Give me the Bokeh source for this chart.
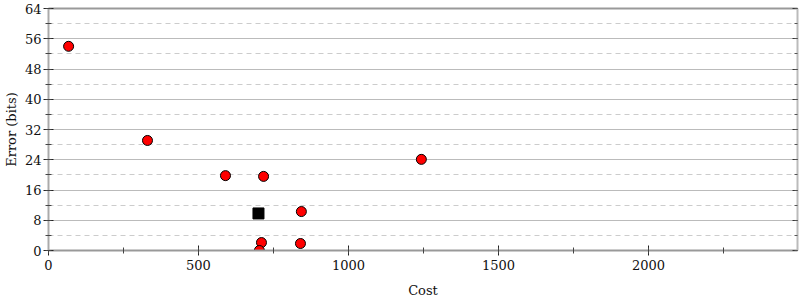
from bokeh.plotting import figure
from bokeh.models import LinearAxis, FixedTicker, Range1d
from bokeh.embed import file_html
from bokeh.resources import INLINE

cost = [67, 330, 590, 717, 1243, 843, 710, 840, 703]
error = [54.0, 29.1, 19.8, 19.6, 24.1, 10.3, 2.1, 1.85, 0.0]
init_cost = [700]
init_error = [9.8]
x_ticks = [0, 500, 1000, 1500, 2000]
y_ticks = [0, 8, 16, 24, 32, 40, 48, 56, 64]

FONT = "DejaVu Serif"

p = figure(width=800, height=300, output_backend="svg", toolbar_location=None,
           x_range=Range1d(0, 2497), y_range=Range1d(0, 64),
           min_border_left=48, min_border_right=3, min_border_top=8, min_border_bottom=50)
p.outline_line_color = None
p.background_fill_color = "white"

# axes
xa = p.xaxis[0]
xa.ticker = FixedTicker(ticks=x_ticks, minor_ticks=list(range(0, 2500, 250)))
xa.axis_label = "Cost"
ya = p.yaxis[0]
ya.ticker = FixedTicker(ticks=y_ticks, minor_ticks=list(range(0, 65, 4)))
ya.axis_label = "Error (bits)"
for ax in (xa, ya):
    ax.axis_label_text_font = FONT
    ax.axis_label_text_font_style = "normal"
    ax.axis_label_text_font_size = "13px"
    ax.axis_label_text_color = "#111111"
    ax.major_label_text_font = FONT
    ax.major_label_text_font_size = "13px"
    ax.major_label_text_color = "#111111"
    ax.axis_line_color = "#aaaaaa"
    ax.axis_line_width = 2
    ax.major_tick_line_color = "#222222"
    ax.minor_tick_line_color = "#444444"
    ax.major_tick_in = 5
    ax.major_tick_out = 5
    ax.minor_tick_in = 3
    ax.minor_tick_out = 3
xa.axis_line_color = "#999999"
xa.axis_label_standoff = 10
ya.axis_label_standoff = 3
xa.major_label_standoff = 4
ya.major_label_standoff = 2

ra = LinearAxis(ticker=FixedTicker(ticks=y_ticks, minor_ticks=list(range(0, 65, 4))),
                major_label_overrides={t: "" for t in y_ticks},
                axis_line_color="#bbbbbb", axis_line_width=2,
                major_tick_line_color="#333333", minor_tick_line_color="#555555",
                major_tick_in=5, major_tick_out=0, minor_tick_in=3, minor_tick_out=0)
ra.major_label_standoff = 0
p.add_layout(ra, "right")

ta = LinearAxis(ticker=FixedTicker(ticks=[]),
                axis_line_color="#999999", axis_line_width=2,
                major_tick_line_color=None, minor_tick_line_color=None)
ta.major_label_standoff = 0
p.add_layout(ta, "above")

# grid
p.xgrid.grid_line_color = None
p.ygrid.ticker = FixedTicker(ticks=y_ticks, minor_ticks=list(range(0, 65, 4)))
p.ygrid.grid_line_color = "#bbbbbb"
p.ygrid.grid_line_width = 1
p.ygrid.minor_grid_line_color = "#cccccc"
p.ygrid.minor_grid_line_dash = "5 4"

p.scatter(cost, error, size=10, marker="circle", fill_color="red", line_color="black", line_width=1)
p.scatter(init_cost, init_error, size=11, marker="square", fill_color="black", line_color="black")

open("out.html", "w").write(file_html(p, INLINE))
